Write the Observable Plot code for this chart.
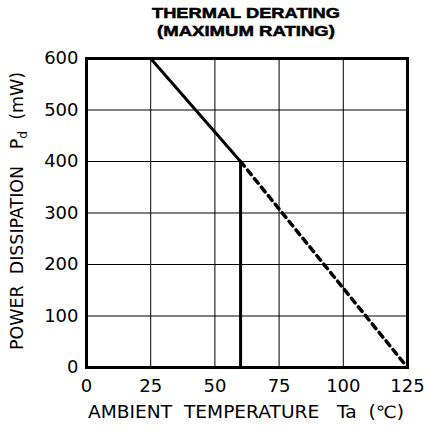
<!DOCTYPE html>
<html><head><meta charset="utf-8">
<script src="https://cdn.jsdelivr.net/npm/d3@7"></script>
<script src="https://cdn.jsdelivr.net/npm/@observablehq/plot@0.6"></script>
<style>body{margin:0;background:#fff}</style>
</head><body><div id="chart"></div>
<script>
const solidTemp = [0, 25, 60, 60];
const solidPower = [600, 600, 400, 0];
const dashTemp = [60, 125];
const dashPower = [400, 0];
const xTicks = [0, 25, 50, 75, 100, 125];
const yTicks = [0, 100, 200, 300, 400, 500, 600];
const titleLines = ["THERMAL DERATING", "(MAXIMUM RATING)"];

const solid = solidTemp.map((t, i) => ({t, p: solidPower[i]}));
const dashed = dashTemp.map((t, i) => ({t, p: dashPower[i]}));

const plot = Plot.plot({
  width: 426, height: 433,
  marginLeft: 86, marginRight: 19, marginTop: 58, marginBottom: 66,
  style: {fontFamily: "DejaVu Sans", fontSize: "18px", color: "#000", background: "#fff"},
  x: {domain: [0, 125], ticks: xTicks, label: null},
  y: {domain: [0, 600], ticks: yTicks, label: null},
  marks: [
    Plot.gridX(xTicks, {stroke: "#000", strokeOpacity: 1, strokeWidth: 1}),
    Plot.gridY(yTicks, {stroke: "#000", strokeOpacity: 1, strokeWidth: 1}),
    Plot.axisX(xTicks, {tickSize: 0, tickPadding: 12, fontSize: 18}),
    Plot.axisY(yTicks, {tickSize: 0, tickPadding: 8, fontSize: 18}),
    Plot.line(dashed, {x: "t", y: "p", stroke: "#000", strokeWidth: 3.5, strokeDasharray: "6,5"}),
    Plot.line(solid, {x: "t", y: "p", stroke: "#000", strokeWidth: 3, strokeLinejoin: "miter"}),
    Plot.frame({stroke: "#000", strokeWidth: 3})
  ]
});

const svg = d3.select(plot);
const tg = svg.append("g").attr("font-family", "Liberation Sans").attr("font-weight", "bold").attr("font-size", 14.5)
  .attr("text-anchor", "middle").attr("stroke", "#000").attr("stroke-width", 0.5);
titleLines.forEach((s, i) => {
  tg.append("text").attr("x", 246).attr("y", 18 + i * 18).attr("textLength", i === 0 ? 188 : 178).attr("lengthAdjust", "spacingAndGlyphs").text(s);
});
// x axis label
svg.append("text").attr("x", 246).attr("y", 418).attr("text-anchor", "middle")
  .attr("font-family", "DejaVu Sans").attr("font-size", 17).attr("textLength", 316).attr("lengthAdjust", "spacingAndGlyphs")
  .text("AMBIENT  TEMPERATURE   Ta  (℃)");
// y axis label with subscript
const yl = svg.append("text").attr("transform", "translate(23,211) rotate(-90)").attr("text-anchor", "middle")
  .attr("font-family", "DejaVu Sans").attr("font-size", 17).attr("textLength", 278).attr("lengthAdjust", "spacingAndGlyphs");
yl.append("tspan").text("POWER  DISSIPATION   P");
yl.append("tspan").attr("font-size", 12).attr("dy", 4).text("d");
yl.append("tspan").attr("dy", -4).text("  (mW)");
document.getElementById("chart").appendChild(plot);
</script>
</body></html>
